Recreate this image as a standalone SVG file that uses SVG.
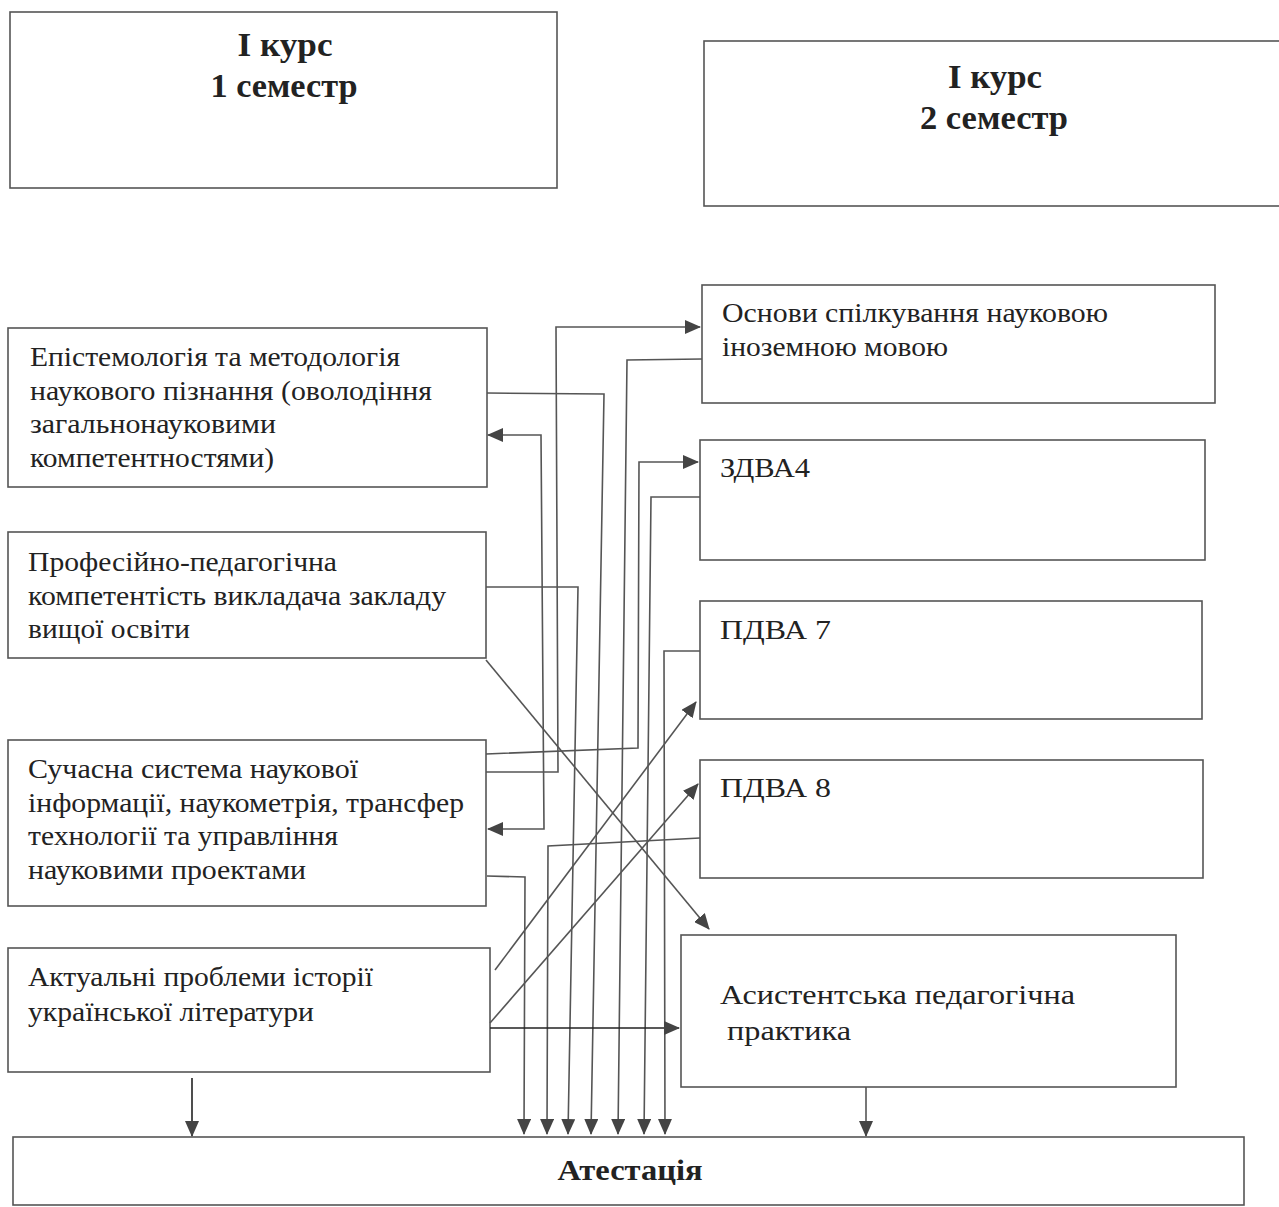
<svg xmlns="http://www.w3.org/2000/svg" width="1279" height="1207" viewBox="0 0 1279 1207">
<style>
.box{fill:#fff;stroke:#555;stroke-width:1.6}
.t{font-family:"Liberation Serif","Times New Roman",serif;font-size:28px;fill:#222}
.h{font-family:"Liberation Serif","Times New Roman",serif;font-size:33px;font-weight:bold;fill:#222;text-anchor:middle}
.c{fill:none;stroke:#555;stroke-width:1.6}
.d{stroke:#222}
</style>
<defs>
<marker id="ar" markerUnits="userSpaceOnUse" markerWidth="16" markerHeight="14" refX="15" refY="7" orient="auto-start-reverse">
<path d="M0,0 L16,7 L0,14 z" fill="#444"/>
</marker>
</defs>
<rect width="1279" height="1207" fill="#fff"/>
<g id="sem1"><rect class="box" x="10" y="12" width="547" height="176"/>
<text class="h" x="285" y="56" textLength="95" lengthAdjust="spacingAndGlyphs">I курс</text><text class="h" x="284" y="97" textLength="147" lengthAdjust="spacingAndGlyphs">1 семестр</text></g>
<g id="sem2"><rect class="box" x="704" y="41" width="600" height="165"/>
<text class="h" x="995" y="88" textLength="94" lengthAdjust="spacingAndGlyphs">I курс</text><text class="h" x="994" y="129" textLength="148" lengthAdjust="spacingAndGlyphs">2 семестр</text></g>
<g id="epist"><rect class="box" x="8" y="328" width="479" height="159"/>
<text class="t" x="30" y="366" textLength="370" lengthAdjust="spacingAndGlyphs">Епістемологія та методологія</text>
<text class="t" x="30" y="400" textLength="402" lengthAdjust="spacingAndGlyphs">наукового пізнання (оволодіння</text>
<text class="t" x="30" y="433" textLength="246" lengthAdjust="spacingAndGlyphs">загальнонауковими</text>
<text class="t" x="30" y="467" textLength="244" lengthAdjust="spacingAndGlyphs">компетентностями)</text></g>
<g id="prof"><rect class="box" x="8" y="532" width="478" height="126"/>
<text class="t" x="28" y="571" textLength="309" lengthAdjust="spacingAndGlyphs">Професійно-педагогічна</text>
<text class="t" x="28" y="605" textLength="418" lengthAdjust="spacingAndGlyphs">компетентість викладача закладу</text>
<text class="t" x="28" y="638" textLength="162" lengthAdjust="spacingAndGlyphs">вищої освіти</text></g>
<g id="suchasna"><rect class="box" x="8" y="740" width="478" height="166"/>
<text class="t" x="28" y="778" textLength="330" lengthAdjust="spacingAndGlyphs">Сучасна система наукової</text>
<text class="t" x="28" y="812" textLength="436" lengthAdjust="spacingAndGlyphs">інформації, наукометрія, трансфер</text>
<text class="t" x="28" y="845" textLength="310" lengthAdjust="spacingAndGlyphs">технології та управління</text>
<text class="t" x="28" y="879" textLength="278" lengthAdjust="spacingAndGlyphs">науковими проектами</text></g>
<g id="aktualni"><rect class="box" x="8" y="948" width="482" height="124"/>
<text class="t" x="28" y="986" textLength="345" lengthAdjust="spacingAndGlyphs">Актуальні проблеми історії</text>
<text class="t" x="28" y="1021" textLength="286" lengthAdjust="spacingAndGlyphs">української літератури</text></g>
<g id="osnovy"><rect class="box" x="702" y="285" width="513" height="118"/>
<text class="t" x="722" y="322" textLength="386" lengthAdjust="spacingAndGlyphs">Основи спілкування науковою</text>
<text class="t" x="722" y="356" textLength="226" lengthAdjust="spacingAndGlyphs">іноземною мовою</text></g>
<g id="zdva4"><rect class="box" x="700" y="440" width="505" height="120"/>
<text class="t" x="720" y="477" textLength="90" lengthAdjust="spacingAndGlyphs">ЗДВА4</text></g>
<g id="pdva7"><rect class="box" x="700" y="601" width="502" height="118"/>
<text class="t" x="720" y="639" textLength="111" lengthAdjust="spacingAndGlyphs">ПДВА 7</text></g>
<g id="pdva8"><rect class="box" x="700" y="760" width="503" height="118"/>
<text class="t" x="720" y="797" textLength="111" lengthAdjust="spacingAndGlyphs">ПДВА 8</text></g>
<g id="praktyka"><rect class="box" x="681" y="935" width="495" height="152"/>
<text class="t" x="720" y="1004" textLength="355" lengthAdjust="spacingAndGlyphs">Асистентська педагогічна</text>
<text class="t" x="727" y="1040" textLength="124" lengthAdjust="spacingAndGlyphs">практика</text></g>
<g id="atestatsiya"><rect class="box" x="13" y="1137" width="1231" height="68"/>
<text class="h" x="630" y="1180" style="font-size:29px" textLength="145" lengthAdjust="spacingAndGlyphs">Атестація</text></g>
<g id="connectors">
<path class="c" d="M486,772 L558,772 L556,327 L700,327" marker-end="url(#ar)"/>
<path class="c" d="M487,393 L604,394 L591,1134" marker-end="url(#ar)"/>
<path class="c" d="M702,359 L627,360 L618,1134" marker-end="url(#ar)"/>
<path class="c" d="M486,754 L638,748 L639,462 L698,462" marker-end="url(#ar)"/>
<path class="c" d="M700,497 L651,497 L644,1134" marker-end="url(#ar)"/>
<path class="c" d="M488,435 L541,435 L544,829 L488,829" marker-start="url(#ar)" marker-end="url(#ar)"/>
<path class="c" d="M486,587 L578,587 L568,1134" marker-end="url(#ar)"/>
<path class="c" d="M486,660 L709,929" marker-end="url(#ar)"/>
<path class="c" d="M700,651 L664,651 L665,1134" marker-end="url(#ar)"/>
<path class="c" d="M495,970 L696,702" marker-end="url(#ar)"/>
<path class="c" d="M490,1023 L698,784" marker-end="url(#ar)"/>
<path class="c" d="M700,838 L548,846 L547,1134" marker-end="url(#ar)"/>
<path class="c" d="M487,876 L525,877 L524,1134" marker-end="url(#ar)"/>
<path class="c d" d="M490,1028 L679,1028" marker-end="url(#ar)"/>
<path class="c d" d="M192,1078 L192,1136" marker-end="url(#ar)"/>
<path class="c" d="M866,1087 L866,1136" marker-end="url(#ar)"/>
</g>
</svg>
